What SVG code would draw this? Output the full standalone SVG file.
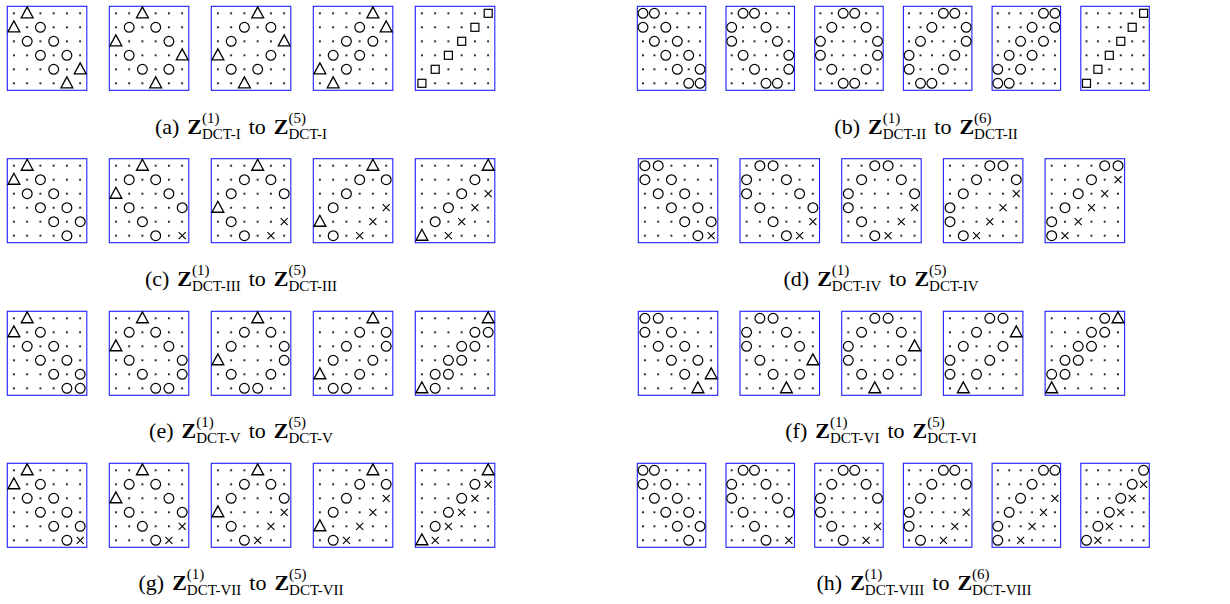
<svg xmlns="http://www.w3.org/2000/svg" xmlns:xlink="http://www.w3.org/1999/xlink" width="1230" height="604" viewBox="0 0 1230 604">
<style>
.bw{fill:url(#pw);stroke:#1f1fff;stroke-width:1.1}
.bn{fill:url(#pn);stroke:#1f1fff;stroke-width:1.1}
.cap{font-family:"Liberation Serif","Times New Roman",serif;font-size:22px;fill:#000}
.bz{font-weight:bold}
.sc{font-size:15px}
</style>
<defs>
<circle id="o" r="4.9" fill="#fff" stroke="#000" stroke-width="1.2"/>
<polygon id="t" points="0,-6.4 -5.9,4.5 5.9,4.5" fill="#fff" stroke="#000" stroke-width="1.35"/>
<rect id="s" x="-4" y="-4" width="8" height="8" fill="#fff" stroke="#000" stroke-width="1.2"/>
<g id="x"><circle r="2.3" fill="#fff"/><path d="M-3.5-3.5L3.5 3.5M-3.5 3.5L3.5-3.5" stroke="#000" stroke-width="1.1"/></g>
<pattern id="pw" patternUnits="userSpaceOnUse" x="0" y="0" width="13.25" height="14"><rect width="13.25" height="14" fill="#fff"/><circle cx="6.6" cy="7" r="1.1" fill="#000"/></pattern>
<pattern id="pn" patternUnits="userSpaceOnUse" x="0" y="0" width="11.42" height="14"><rect width="11.42" height="14" fill="#fff"/><circle cx="5.7" cy="7" r="1.1" fill="#000"/></pattern>
</defs>
<rect width="1230" height="604" fill="#fff"/>

<!-- Row (a) -->
<g id="a1" transform="translate(7.3,6.3)"><rect class="bw" width="79.5" height="84"/>
<use href="#t" x="19.9" y="7"/><use href="#t" x="6.6" y="21"/><use href="#o" x="33.1" y="21"/><use href="#o" x="19.9" y="35"/><use href="#o" x="46.4" y="35"/><use href="#o" x="33.1" y="49"/><use href="#o" x="59.6" y="49"/><use href="#o" x="46.4" y="63"/><use href="#t" x="72.9" y="63"/><use href="#t" x="59.6" y="77"/></g>
<g id="a2" transform="translate(109.3,6.3)"><rect class="bw" width="79.5" height="84"/>
<use href="#t" x="33.1" y="7"/><use href="#o" x="19.9" y="21"/><use href="#o" x="46.4" y="21"/><use href="#t" x="6.6" y="35"/><use href="#o" x="59.6" y="35"/><use href="#o" x="19.9" y="49"/><use href="#t" x="72.9" y="49"/><use href="#o" x="33.1" y="63"/><use href="#o" x="59.6" y="63"/><use href="#t" x="46.4" y="77"/></g>
<g id="a3" transform="translate(211.3,6.3)"><rect class="bw" width="79.5" height="84"/>
<use href="#t" x="46.4" y="7"/><use href="#o" x="33.1" y="21"/><use href="#o" x="59.6" y="21"/><use href="#o" x="19.9" y="35"/><use href="#t" x="72.9" y="35"/><use href="#t" x="6.6" y="49"/><use href="#o" x="59.6" y="49"/><use href="#o" x="19.9" y="63"/><use href="#o" x="46.4" y="63"/><use href="#t" x="33.1" y="77"/></g>
<g id="a4" transform="translate(313.3,6.3)"><rect class="bw" width="79.5" height="84"/>
<use href="#t" x="59.6" y="7"/><use href="#o" x="46.4" y="21"/><use href="#t" x="72.9" y="21"/><use href="#o" x="33.1" y="35"/><use href="#o" x="59.6" y="35"/><use href="#o" x="19.9" y="49"/><use href="#o" x="46.4" y="49"/><use href="#t" x="6.6" y="63"/><use href="#o" x="33.1" y="63"/><use href="#t" x="19.9" y="77"/></g>
<g id="a5" transform="translate(415.3,6.3)"><rect class="bw" width="79.5" height="84"/>
<use href="#s" x="72.9" y="7"/><use href="#s" x="59.6" y="21"/><use href="#s" x="46.4" y="35"/><use href="#s" x="33.1" y="49"/><use href="#s" x="19.9" y="63"/><use href="#s" x="6.6" y="77"/></g>

<!-- Row (b) -->
<g id="b1" transform="translate(637.3,6.3)"><rect class="bn" width="68.5" height="84"/>
<use href="#o" x="5.7" y="7"/><use href="#o" x="17.1" y="7"/><use href="#o" x="5.7" y="21"/><use href="#o" x="28.5" y="21"/><use href="#o" x="17.1" y="35"/><use href="#o" x="40" y="35"/><use href="#o" x="28.5" y="49"/><use href="#o" x="51.4" y="49"/><use href="#o" x="40" y="63"/><use href="#o" x="62.8" y="63"/><use href="#o" x="51.4" y="77"/><use href="#o" x="62.8" y="77"/></g>
<g id="b2" transform="translate(726,6.3)"><rect class="bn" width="68.5" height="84"/>
<use href="#o" x="17.1" y="7"/><use href="#o" x="28.5" y="7"/><use href="#o" x="5.7" y="21"/><use href="#o" x="40" y="21"/><use href="#o" x="5.7" y="35"/><use href="#o" x="51.4" y="35"/><use href="#o" x="17.1" y="49"/><use href="#o" x="62.8" y="49"/><use href="#o" x="28.5" y="63"/><use href="#o" x="62.8" y="63"/><use href="#o" x="40" y="77"/><use href="#o" x="51.4" y="77"/></g>
<g id="b3" transform="translate(814.7,6.3)"><rect class="bn" width="68.5" height="84"/>
<use href="#o" x="28.5" y="7"/><use href="#o" x="40" y="7"/><use href="#o" x="17.1" y="21"/><use href="#o" x="51.4" y="21"/><use href="#o" x="5.7" y="35"/><use href="#o" x="62.8" y="35"/><use href="#o" x="5.7" y="49"/><use href="#o" x="62.8" y="49"/><use href="#o" x="17.1" y="63"/><use href="#o" x="51.4" y="63"/><use href="#o" x="28.5" y="77"/><use href="#o" x="40" y="77"/></g>
<g id="b4" transform="translate(903.4,6.3)"><rect class="bn" width="68.5" height="84"/>
<use href="#o" x="40" y="7"/><use href="#o" x="51.4" y="7"/><use href="#o" x="28.5" y="21"/><use href="#o" x="62.8" y="21"/><use href="#o" x="17.1" y="35"/><use href="#o" x="62.8" y="35"/><use href="#o" x="5.7" y="49"/><use href="#o" x="51.4" y="49"/><use href="#o" x="5.7" y="63"/><use href="#o" x="40" y="63"/><use href="#o" x="17.1" y="77"/><use href="#o" x="28.5" y="77"/></g>
<g id="b5" transform="translate(992.1,6.3)"><rect class="bn" width="68.5" height="84"/>
<use href="#o" x="51.4" y="7"/><use href="#o" x="62.8" y="7"/><use href="#o" x="40" y="21"/><use href="#o" x="62.8" y="21"/><use href="#o" x="28.5" y="35"/><use href="#o" x="51.4" y="35"/><use href="#o" x="17.1" y="49"/><use href="#o" x="40" y="49"/><use href="#o" x="5.7" y="63"/><use href="#o" x="28.5" y="63"/><use href="#o" x="5.7" y="77"/><use href="#o" x="17.1" y="77"/></g>
<g id="b6" transform="translate(1080.8,6.3)"><rect class="bn" width="68.5" height="84"/>
<use href="#s" x="62.8" y="7"/><use href="#s" x="51.4" y="21"/><use href="#s" x="40" y="35"/><use href="#s" x="28.5" y="49"/><use href="#s" x="17.1" y="63"/><use href="#s" x="5.7" y="77"/></g>

<!-- Row (c) -->
<g id="c1" transform="translate(7.3,158.7)"><rect class="bw" width="79.5" height="84"/>
<use href="#t" x="19.9" y="7"/><use href="#t" x="6.6" y="21"/><use href="#o" x="33.1" y="21"/><use href="#o" x="19.9" y="35"/><use href="#o" x="46.4" y="35"/><use href="#o" x="33.1" y="49"/><use href="#o" x="59.6" y="49"/><use href="#o" x="46.4" y="63"/><use href="#o" x="72.9" y="63"/><use href="#o" x="59.6" y="77"/></g>
<g id="c2" transform="translate(109.3,158.7)"><rect class="bw" width="79.5" height="84"/>
<use href="#t" x="33.1" y="7"/><use href="#o" x="19.9" y="21"/><use href="#o" x="46.4" y="21"/><use href="#t" x="6.6" y="35"/><use href="#o" x="59.6" y="35"/><use href="#o" x="19.9" y="49"/><use href="#o" x="72.9" y="49"/><use href="#o" x="33.1" y="63"/><use href="#o" x="46.4" y="77"/><use href="#x" x="72.9" y="77"/></g>
<g id="c3" transform="translate(211.3,158.7)"><rect class="bw" width="79.5" height="84"/>
<use href="#t" x="46.4" y="7"/><use href="#o" x="33.1" y="21"/><use href="#o" x="59.6" y="21"/><use href="#o" x="19.9" y="35"/><use href="#o" x="72.9" y="35"/><use href="#t" x="6.6" y="49"/><use href="#o" x="19.9" y="63"/><use href="#x" x="72.9" y="63"/><use href="#o" x="33.1" y="77"/><use href="#x" x="59.6" y="77"/></g>
<g id="c4" transform="translate(313.3,158.7)"><rect class="bw" width="79.5" height="84"/>
<use href="#t" x="59.6" y="7"/><use href="#o" x="46.4" y="21"/><use href="#o" x="72.9" y="21"/><use href="#o" x="33.1" y="35"/><use href="#o" x="19.9" y="49"/><use href="#x" x="72.9" y="49"/><use href="#t" x="6.6" y="63"/><use href="#x" x="59.6" y="63"/><use href="#o" x="19.9" y="77"/><use href="#x" x="46.4" y="77"/></g>
<g id="c5" transform="translate(415.3,158.7)"><rect class="bw" width="79.5" height="84"/>
<use href="#t" x="72.9" y="7"/><use href="#o" x="59.6" y="21"/><use href="#o" x="46.4" y="35"/><use href="#x" x="72.9" y="35"/><use href="#o" x="33.1" y="49"/><use href="#x" x="59.6" y="49"/><use href="#o" x="19.9" y="63"/><use href="#x" x="46.4" y="63"/><use href="#t" x="6.6" y="77"/><use href="#x" x="33.1" y="77"/></g>

<!-- Row (d) -->
<g id="d1" transform="translate(638.3,158.7)"><rect class="bw" width="79.5" height="84"/>
<use href="#o" x="6.6" y="7"/><use href="#o" x="19.9" y="7"/><use href="#o" x="6.6" y="21"/><use href="#o" x="33.1" y="21"/><use href="#o" x="19.9" y="35"/><use href="#o" x="46.4" y="35"/><use href="#o" x="33.1" y="49"/><use href="#o" x="59.6" y="49"/><use href="#o" x="46.4" y="63"/><use href="#o" x="72.9" y="63"/><use href="#o" x="59.6" y="77"/><use href="#x" x="72.9" y="77"/></g>
<g id="d2" transform="translate(740,158.7)"><rect class="bw" width="79.5" height="84"/>
<use href="#o" x="19.9" y="7"/><use href="#o" x="33.1" y="7"/><use href="#o" x="6.6" y="21"/><use href="#o" x="46.4" y="21"/><use href="#o" x="6.6" y="35"/><use href="#o" x="59.6" y="35"/><use href="#o" x="19.9" y="49"/><use href="#o" x="72.9" y="49"/><use href="#o" x="33.1" y="63"/><use href="#x" x="72.9" y="63"/><use href="#o" x="46.4" y="77"/><use href="#x" x="59.6" y="77"/></g>
<g id="d3" transform="translate(841.7,158.7)"><rect class="bw" width="79.5" height="84"/>
<use href="#o" x="33.1" y="7"/><use href="#o" x="46.4" y="7"/><use href="#o" x="19.9" y="21"/><use href="#o" x="59.6" y="21"/><use href="#o" x="6.6" y="35"/><use href="#o" x="72.9" y="35"/><use href="#o" x="6.6" y="49"/><use href="#x" x="72.9" y="49"/><use href="#o" x="19.9" y="63"/><use href="#x" x="59.6" y="63"/><use href="#o" x="33.1" y="77"/><use href="#x" x="46.4" y="77"/></g>
<g id="d4" transform="translate(943.4,158.7)"><rect class="bw" width="79.5" height="84"/>
<use href="#o" x="46.4" y="7"/><use href="#o" x="59.6" y="7"/><use href="#o" x="33.1" y="21"/><use href="#o" x="72.9" y="21"/><use href="#o" x="19.9" y="35"/><use href="#x" x="72.9" y="35"/><use href="#o" x="6.6" y="49"/><use href="#x" x="59.6" y="49"/><use href="#o" x="6.6" y="63"/><use href="#x" x="46.4" y="63"/><use href="#o" x="19.9" y="77"/><use href="#x" x="33.1" y="77"/></g>
<g id="d5" transform="translate(1045.1,158.7)"><rect class="bw" width="79.5" height="84"/>
<use href="#o" x="59.6" y="7"/><use href="#o" x="72.9" y="7"/><use href="#o" x="46.4" y="21"/><use href="#x" x="72.9" y="21"/><use href="#o" x="33.1" y="35"/><use href="#x" x="59.6" y="35"/><use href="#o" x="19.9" y="49"/><use href="#x" x="46.4" y="49"/><use href="#o" x="6.6" y="63"/><use href="#x" x="33.1" y="63"/><use href="#o" x="6.6" y="77"/><use href="#x" x="19.9" y="77"/></g>

<!-- Row (e) -->
<g id="e1" transform="translate(7.3,311.3)"><rect class="bw" width="79.5" height="84"/>
<use href="#t" x="19.9" y="7"/><use href="#t" x="6.6" y="21"/><use href="#o" x="33.1" y="21"/><use href="#o" x="19.9" y="35"/><use href="#o" x="46.4" y="35"/><use href="#o" x="33.1" y="49"/><use href="#o" x="59.6" y="49"/><use href="#o" x="46.4" y="63"/><use href="#o" x="72.9" y="63"/><use href="#o" x="59.6" y="77"/><use href="#o" x="72.9" y="77"/></g>
<g id="e2" transform="translate(109.3,311.3)"><rect class="bw" width="79.5" height="84"/>
<use href="#t" x="33.1" y="7"/><use href="#o" x="19.9" y="21"/><use href="#o" x="46.4" y="21"/><use href="#t" x="6.6" y="35"/><use href="#o" x="59.6" y="35"/><use href="#o" x="19.9" y="49"/><use href="#o" x="72.9" y="49"/><use href="#o" x="33.1" y="63"/><use href="#o" x="72.9" y="63"/><use href="#o" x="46.4" y="77"/><use href="#o" x="59.6" y="77"/></g>
<g id="e3" transform="translate(211.3,311.3)"><rect class="bw" width="79.5" height="84"/>
<use href="#t" x="46.4" y="7"/><use href="#o" x="33.1" y="21"/><use href="#o" x="59.6" y="21"/><use href="#o" x="19.9" y="35"/><use href="#o" x="72.9" y="35"/><use href="#t" x="6.6" y="49"/><use href="#o" x="72.9" y="49"/><use href="#o" x="19.9" y="63"/><use href="#o" x="59.6" y="63"/><use href="#o" x="33.1" y="77"/><use href="#o" x="46.4" y="77"/></g>
<g id="e4" transform="translate(313.3,311.3)"><rect class="bw" width="79.5" height="84"/>
<use href="#t" x="59.6" y="7"/><use href="#o" x="46.4" y="21"/><use href="#o" x="72.9" y="21"/><use href="#o" x="33.1" y="35"/><use href="#o" x="72.9" y="35"/><use href="#o" x="19.9" y="49"/><use href="#o" x="59.6" y="49"/><use href="#t" x="6.6" y="63"/><use href="#o" x="46.4" y="63"/><use href="#o" x="19.9" y="77"/><use href="#o" x="33.1" y="77"/></g>
<g id="e5" transform="translate(415.3,311.3)"><rect class="bw" width="79.5" height="84"/>
<use href="#t" x="72.9" y="7"/><use href="#o" x="59.6" y="21"/><use href="#o" x="72.9" y="21"/><use href="#o" x="46.4" y="35"/><use href="#o" x="59.6" y="35"/><use href="#o" x="33.1" y="49"/><use href="#o" x="46.4" y="49"/><use href="#o" x="19.9" y="63"/><use href="#o" x="33.1" y="63"/><use href="#t" x="6.6" y="77"/><use href="#o" x="19.9" y="77"/></g>

<!-- Row (f) -->
<g id="f1" transform="translate(638.3,311.3)"><rect class="bw" width="79.5" height="84"/>
<use href="#o" x="6.6" y="7"/><use href="#o" x="19.9" y="7"/><use href="#o" x="6.6" y="21"/><use href="#o" x="33.1" y="21"/><use href="#o" x="19.9" y="35"/><use href="#o" x="46.4" y="35"/><use href="#o" x="33.1" y="49"/><use href="#o" x="59.6" y="49"/><use href="#o" x="46.4" y="63"/><use href="#t" x="72.9" y="63"/><use href="#t" x="59.6" y="77"/></g>
<g id="f2" transform="translate(740,311.3)"><rect class="bw" width="79.5" height="84"/>
<use href="#o" x="19.9" y="7"/><use href="#o" x="33.1" y="7"/><use href="#o" x="6.6" y="21"/><use href="#o" x="46.4" y="21"/><use href="#o" x="6.6" y="35"/><use href="#o" x="59.6" y="35"/><use href="#o" x="19.9" y="49"/><use href="#t" x="72.9" y="49"/><use href="#o" x="33.1" y="63"/><use href="#o" x="59.6" y="63"/><use href="#t" x="46.4" y="77"/></g>
<g id="f3" transform="translate(841.7,311.3)"><rect class="bw" width="79.5" height="84"/>
<use href="#o" x="33.1" y="7"/><use href="#o" x="46.4" y="7"/><use href="#o" x="19.9" y="21"/><use href="#o" x="59.6" y="21"/><use href="#o" x="6.6" y="35"/><use href="#t" x="72.9" y="35"/><use href="#o" x="6.6" y="49"/><use href="#o" x="59.6" y="49"/><use href="#o" x="19.9" y="63"/><use href="#o" x="46.4" y="63"/><use href="#t" x="33.1" y="77"/></g>
<g id="f4" transform="translate(943.4,311.3)"><rect class="bw" width="79.5" height="84"/>
<use href="#o" x="46.4" y="7"/><use href="#o" x="59.6" y="7"/><use href="#o" x="33.1" y="21"/><use href="#t" x="72.9" y="21"/><use href="#o" x="19.9" y="35"/><use href="#o" x="59.6" y="35"/><use href="#o" x="6.6" y="49"/><use href="#o" x="46.4" y="49"/><use href="#o" x="6.6" y="63"/><use href="#o" x="33.1" y="63"/><use href="#t" x="19.9" y="77"/></g>
<g id="f5" transform="translate(1045.1,311.3)"><rect class="bw" width="79.5" height="84"/>
<use href="#o" x="59.6" y="7"/><use href="#t" x="72.9" y="7"/><use href="#o" x="46.4" y="21"/><use href="#o" x="59.6" y="21"/><use href="#o" x="33.1" y="35"/><use href="#o" x="46.4" y="35"/><use href="#o" x="19.9" y="49"/><use href="#o" x="33.1" y="49"/><use href="#o" x="6.6" y="63"/><use href="#o" x="19.9" y="63"/><use href="#t" x="6.6" y="77"/></g>

<!-- Row (g) -->
<g id="g1" transform="translate(7.3,463.3)"><rect class="bw" width="79.5" height="84"/>
<use href="#t" x="19.9" y="7"/><use href="#t" x="6.6" y="21"/><use href="#o" x="33.1" y="21"/><use href="#o" x="19.9" y="35"/><use href="#o" x="46.4" y="35"/><use href="#o" x="33.1" y="49"/><use href="#o" x="59.6" y="49"/><use href="#o" x="46.4" y="63"/><use href="#o" x="72.9" y="63"/><use href="#o" x="59.6" y="77"/><use href="#x" x="72.9" y="77"/></g>
<g id="g2" transform="translate(109.3,463.3)"><rect class="bw" width="79.5" height="84"/>
<use href="#t" x="33.1" y="7"/><use href="#o" x="19.9" y="21"/><use href="#o" x="46.4" y="21"/><use href="#t" x="6.6" y="35"/><use href="#o" x="59.6" y="35"/><use href="#o" x="19.9" y="49"/><use href="#o" x="72.9" y="49"/><use href="#o" x="33.1" y="63"/><use href="#x" x="72.9" y="63"/><use href="#o" x="46.4" y="77"/><use href="#x" x="59.6" y="77"/></g>
<g id="g3" transform="translate(211.3,463.3)"><rect class="bw" width="79.5" height="84"/>
<use href="#t" x="46.4" y="7"/><use href="#o" x="33.1" y="21"/><use href="#o" x="59.6" y="21"/><use href="#o" x="19.9" y="35"/><use href="#o" x="72.9" y="35"/><use href="#t" x="6.6" y="49"/><use href="#x" x="72.9" y="49"/><use href="#o" x="19.9" y="63"/><use href="#x" x="59.6" y="63"/><use href="#o" x="33.1" y="77"/><use href="#x" x="46.4" y="77"/></g>
<g id="g4" transform="translate(313.3,463.3)"><rect class="bw" width="79.5" height="84"/>
<use href="#t" x="59.6" y="7"/><use href="#o" x="46.4" y="21"/><use href="#o" x="72.9" y="21"/><use href="#o" x="33.1" y="35"/><use href="#x" x="72.9" y="35"/><use href="#o" x="19.9" y="49"/><use href="#x" x="59.6" y="49"/><use href="#t" x="6.6" y="63"/><use href="#x" x="46.4" y="63"/><use href="#o" x="19.9" y="77"/><use href="#x" x="33.1" y="77"/></g>
<g id="g5" transform="translate(415.3,463.3)"><rect class="bw" width="79.5" height="84"/>
<use href="#t" x="72.9" y="7"/><use href="#o" x="59.6" y="21"/><use href="#x" x="72.9" y="21"/><use href="#o" x="46.4" y="35"/><use href="#x" x="59.6" y="35"/><use href="#o" x="33.1" y="49"/><use href="#x" x="46.4" y="49"/><use href="#o" x="19.9" y="63"/><use href="#x" x="33.1" y="63"/><use href="#t" x="6.6" y="77"/><use href="#x" x="19.9" y="77"/></g>

<!-- Row (h) -->
<g id="h1" transform="translate(637.3,463.3)"><rect class="bn" width="68.5" height="84"/>
<use href="#o" x="5.7" y="7"/><use href="#o" x="17.1" y="7"/><use href="#o" x="5.7" y="21"/><use href="#o" x="28.5" y="21"/><use href="#o" x="17.1" y="35"/><use href="#o" x="40" y="35"/><use href="#o" x="28.5" y="49"/><use href="#o" x="51.4" y="49"/><use href="#o" x="40" y="63"/><use href="#o" x="62.8" y="63"/><use href="#o" x="51.4" y="77"/></g>
<g id="h2" transform="translate(726,463.3)"><rect class="bn" width="68.5" height="84"/>
<use href="#o" x="17.1" y="7"/><use href="#o" x="28.5" y="7"/><use href="#o" x="5.7" y="21"/><use href="#o" x="40" y="21"/><use href="#o" x="5.7" y="35"/><use href="#o" x="51.4" y="35"/><use href="#o" x="17.1" y="49"/><use href="#o" x="62.8" y="49"/><use href="#o" x="28.5" y="63"/><use href="#o" x="40" y="77"/><use href="#x" x="62.8" y="77"/></g>
<g id="h3" transform="translate(814.7,463.3)"><rect class="bn" width="68.5" height="84"/>
<use href="#o" x="28.5" y="7"/><use href="#o" x="40" y="7"/><use href="#o" x="17.1" y="21"/><use href="#o" x="51.4" y="21"/><use href="#o" x="5.7" y="35"/><use href="#o" x="62.8" y="35"/><use href="#o" x="5.7" y="49"/><use href="#o" x="17.1" y="63"/><use href="#x" x="62.8" y="63"/><use href="#o" x="28.5" y="77"/><use href="#x" x="51.4" y="77"/></g>
<g id="h4" transform="translate(903.4,463.3)"><rect class="bn" width="68.5" height="84"/>
<use href="#o" x="40" y="7"/><use href="#o" x="51.4" y="7"/><use href="#o" x="28.5" y="21"/><use href="#o" x="62.8" y="21"/><use href="#o" x="17.1" y="35"/><use href="#o" x="5.7" y="49"/><use href="#x" x="62.8" y="49"/><use href="#o" x="5.7" y="63"/><use href="#x" x="51.4" y="63"/><use href="#o" x="17.1" y="77"/><use href="#x" x="40" y="77"/></g>
<g id="h5" transform="translate(992.1,463.3)"><rect class="bn" width="68.5" height="84"/>
<use href="#o" x="51.4" y="7"/><use href="#o" x="62.8" y="7"/><use href="#o" x="40" y="21"/><use href="#o" x="28.5" y="35"/><use href="#x" x="62.8" y="35"/><use href="#o" x="17.1" y="49"/><use href="#x" x="51.4" y="49"/><use href="#o" x="5.7" y="63"/><use href="#x" x="40" y="63"/><use href="#o" x="5.7" y="77"/><use href="#x" x="28.5" y="77"/></g>
<g id="h6" transform="translate(1080.8,463.3)"><rect class="bn" width="68.5" height="84"/>
<use href="#o" x="62.8" y="7"/><use href="#o" x="51.4" y="21"/><use href="#x" x="62.8" y="21"/><use href="#o" x="40" y="35"/><use href="#x" x="51.4" y="35"/><use href="#o" x="28.5" y="49"/><use href="#x" x="40" y="49"/><use href="#o" x="17.1" y="63"/><use href="#x" x="28.5" y="63"/><use href="#o" x="5.7" y="77"/><use href="#x" x="17.1" y="77"/></g>

<!-- Captions -->
<g id="captions" class="cap" text-anchor="middle">
<text x="241" y="134">(a)<tspan class="bz" dx="8">Z</tspan><tspan class="sc" dy="-11">(1)</tspan><tspan class="sc" dx="-17.5" dy="16">DCT-I</tspan><tspan dx="8" dy="-5">to</tspan><tspan class="bz" dx="8">Z</tspan><tspan class="sc" dy="-11">(5)</tspan><tspan class="sc" dx="-17.5" dy="16">DCT-I</tspan></text>
<text x="926" y="134">(b)<tspan class="bz" dx="8">Z</tspan><tspan class="sc" dy="-11">(1)</tspan><tspan class="sc" dx="-17.5" dy="16">DCT-II</tspan><tspan dx="8" dy="-5">to</tspan><tspan class="bz" dx="8">Z</tspan><tspan class="sc" dy="-11">(6)</tspan><tspan class="sc" dx="-17.5" dy="16">DCT-II</tspan></text>
<text x="241" y="286">(c)<tspan class="bz" dx="8">Z</tspan><tspan class="sc" dy="-11">(1)</tspan><tspan class="sc" dx="-17.5" dy="16">DCT-III</tspan><tspan dx="8" dy="-5">to</tspan><tspan class="bz" dx="8">Z</tspan><tspan class="sc" dy="-11">(5)</tspan><tspan class="sc" dx="-17.5" dy="16">DCT-III</tspan></text>
<text x="881" y="286">(d)<tspan class="bz" dx="8">Z</tspan><tspan class="sc" dy="-11">(1)</tspan><tspan class="sc" dx="-17.5" dy="16">DCT-IV</tspan><tspan dx="8" dy="-5">to</tspan><tspan class="bz" dx="8">Z</tspan><tspan class="sc" dy="-11">(5)</tspan><tspan class="sc" dx="-17.5" dy="16">DCT-IV</tspan></text>
<text x="241" y="438">(e)<tspan class="bz" dx="8">Z</tspan><tspan class="sc" dy="-11">(1)</tspan><tspan class="sc" dx="-17.5" dy="16">DCT-V</tspan><tspan dx="8" dy="-5">to</tspan><tspan class="bz" dx="8">Z</tspan><tspan class="sc" dy="-11">(5)</tspan><tspan class="sc" dx="-17.5" dy="16">DCT-V</tspan></text>
<text x="881" y="438">(f)<tspan class="bz" dx="8">Z</tspan><tspan class="sc" dy="-11">(1)</tspan><tspan class="sc" dx="-17.5" dy="16">DCT-VI</tspan><tspan dx="8" dy="-5">to</tspan><tspan class="bz" dx="8">Z</tspan><tspan class="sc" dy="-11">(5)</tspan><tspan class="sc" dx="-17.5" dy="16">DCT-VI</tspan></text>
<text x="241" y="590">(g)<tspan class="bz" dx="8">Z</tspan><tspan class="sc" dy="-11">(1)</tspan><tspan class="sc" dx="-17.5" dy="16">DCT-VII</tspan><tspan dx="8" dy="-5">to</tspan><tspan class="bz" dx="8">Z</tspan><tspan class="sc" dy="-11">(5)</tspan><tspan class="sc" dx="-17.5" dy="16">DCT-VII</tspan></text>
<text x="924" y="590">(h)<tspan class="bz" dx="8">Z</tspan><tspan class="sc" dy="-11">(1)</tspan><tspan class="sc" dx="-17.5" dy="16">DCT-VIII</tspan><tspan dx="8" dy="-5">to</tspan><tspan class="bz" dx="8">Z</tspan><tspan class="sc" dy="-11">(6)</tspan><tspan class="sc" dx="-17.5" dy="16">DCT-VIII</tspan></text>
</g>
</svg>
